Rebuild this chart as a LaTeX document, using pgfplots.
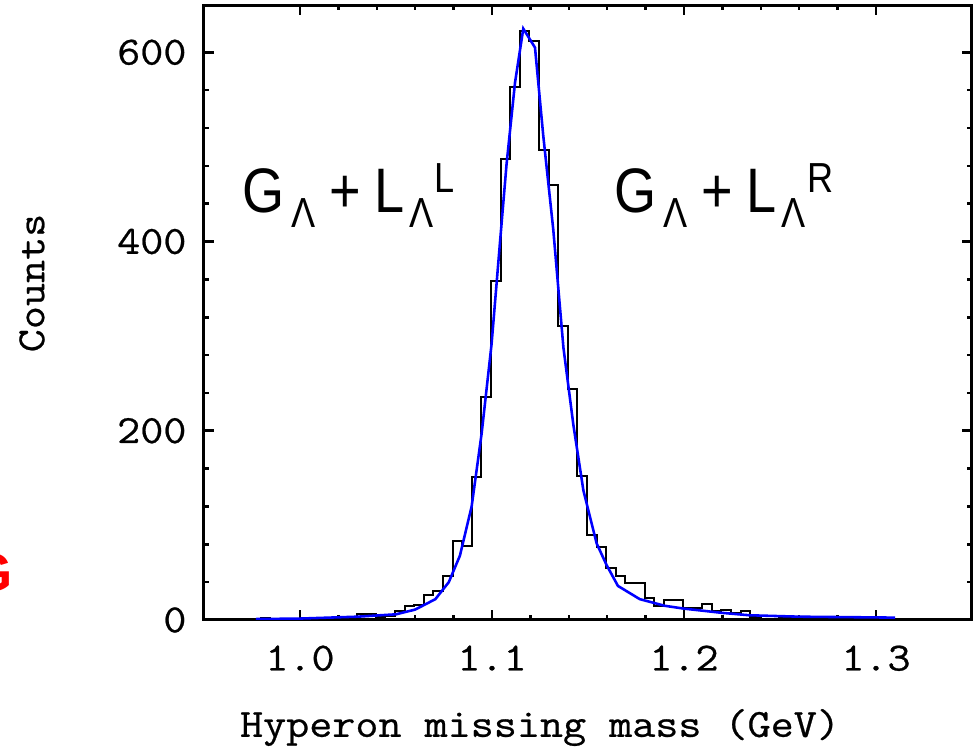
\documentclass[border=0pt]{standalone}
\usepackage{pgfplots}
\pgfplotsset{compat=1.18}
\usepackage{fontspec}
\usepackage{graphicx}
\setmainfont{Latin Modern Mono}[FakeStretch=1.12, FakeBold=0.6]
\newfontfamily\labelsans{Liberation Sans}
\newcommand{\sublam}{\raisebox{-5.25pt}{\fontsize{14.7}{15}\selectfont Λ}}
\newcommand{\lab}[1]{\scalebox{0.86}[1]{\labelsans\fontsize{22}{22}\selectfont G\kern2.6pt\sublam\kern5.9pt+\kern5.4pt L\kern2.05pt\sublam\kern0.5pt\raisebox{7pt}{\fontsize{14.7}{15}\selectfont #1}}}
\begin{document}
\begin{tikzpicture}
\begin{axis}[
  scale only axis, width=268.8pt, height=215.25pt,
  xmin=0.95, xmax=1.35, ymin=0, ymax=650,
  xtick={1.0,1.1,1.2,1.3}, xticklabels={1.0,1.1,1.2,1.3},
  ytick={0,200,400,600}, yticklabels={0,200,400,600},
  minor x tick num=4, minor y tick num=4,
  tick align=inside, major tick length=3.5pt, minor tick length=1.75pt,
  every tick/.style={black, line width=0.9pt},
  axis line style={line width=1.05pt},
  ticklabel style={font=\fontsize{14}{14}\selectfont},
  xticklabel style={inner sep=0pt, anchor=north, yshift=-8.75pt},
  yticklabel style={inner sep=0pt, anchor=east, xshift=-5.95pt},
  xlabel={Hyperon missing mass (GeV)},
  ylabel={Counts},
  xlabel style={font=\fontsize{14}{14}\selectfont, at={(axis description cs:0.4375,-0.19)}, anchor=base, inner sep=0pt},
  ylabel style={font=\fontsize{14}{14}\selectfont, at={(axis description cs:-0.224,0.548)}, anchor=center, inner sep=0pt, rotate=0},
]
\addplot[const plot, black, line width=0.7pt] table {
x y
0.9745 1
0.9795 2
0.9845 1
0.9895 1
0.9945 1
0.9995 1
1.0045 2
1.0095 1
1.0145 2
1.0195 2
1.0245 2
1.0295 6
1.0345 6
1.0395 3
1.0445 4
1.0495 9
1.0545 15
1.0595 16
1.0645 26
1.0695 31
1.0745 47
1.0795 84
1.0845 78
1.0895 151
1.0945 236
1.0995 358
1.1045 487
1.1095 563
1.1145 623
1.1195 612
1.1245 497
1.1295 460
1.1345 311
1.1395 244
1.1445 152
1.1495 90
1.1545 77
1.1595 55
1.1645 46
1.1695 39
1.1745 39
1.1795 23
1.1845 15
1.1895 21
1.1945 21
1.1995 13
1.2045 13
1.2095 17
1.2145 9
1.2195 11
1.2245 7
1.2295 9
1.2345 3
1.2395 4
1.2445 4
1.2495 3
1.2545 2
1.2595 3
1.2645 2
1.2695 2
1.2745 1
1.2795 2
1.2845 1
1.2895 1
1.2945 1
1.2995 1
1.3045 1
1.3095 1
1.3145 0
1.3195 0
1.3245 0
};
\addplot[blue, line width=0.9pt] table {
x y
0.977 1
1.000 1.5
1.030 3.5
1.050 6
1.060 11
1.0705 22
1.0775 40
1.0833 68
1.0894 120
1.0946 197
1.0998 292
1.1042 400
1.1076 482
1.1120 568
1.1163 625
1.1224 605
1.1267 512
1.1319 413
1.1372 288
1.1424 206
1.1476 137
1.1545 81
1.1597 58
1.1656 36
1.1770 22
1.1900 15
1.2000 12
1.2200 7.5
1.2340 5
1.2600 3.5
1.3100 2.5
};
\node[anchor=base west, inner sep=0pt] at (axis cs:0.9698,431) {\lab{L}};
\node[anchor=base west, inner sep=0pt] at (axis cs:1.1637,431) {\lab{R}};
\end{axis}
\node[anchor=base east, inner sep=0pt, text=red] at (-66.9pt,9.8pt) {\labelsans\bfseries\fontsize{19}{19}\selectfont G};
\pgfresetboundingbox
\path[use as bounding box] (-71.4pt,-44.8pt) rectangle (269.85pt,217pt);
\end{tikzpicture}
\end{document}
